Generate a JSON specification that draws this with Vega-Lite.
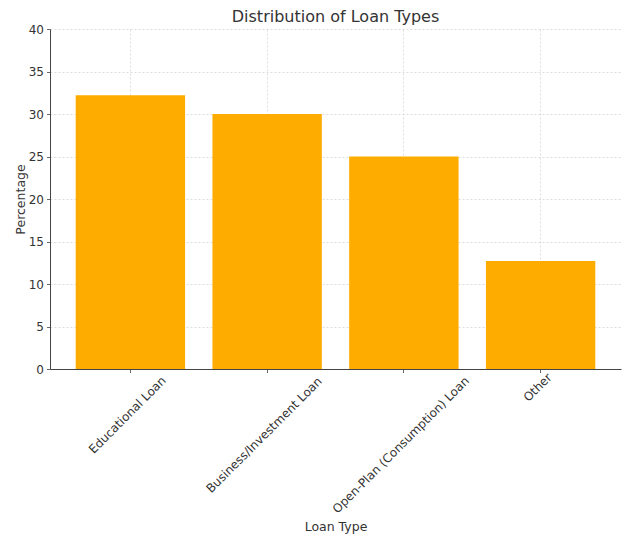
{
  "$schema": "https://vega.github.io/schema/vega-lite/v6.json",
  "width": 571,
  "height": 340,
  "autosize": {"type": "none"},
  "padding": {"left": 50, "top": 29, "right": 2, "bottom": 166},
  "background": "white",
  "title": {
    "text": "Distribution of Loan Types",
    "font": "DejaVu Sans",
    "fontSize": 16,
    "fontWeight": "normal",
    "color": "#333333",
    "frame": "group",
    "offset": -2
  },
  "data": {
    "values": [
      {"loan_type": "Educational Loan", "percentage": 32.2},
      {"loan_type": "Business/Investment Loan", "percentage": 30.0},
      {"loan_type": "Open-Plan (Consumption) Loan", "percentage": 25.0},
      {"loan_type": "Other", "percentage": 12.7}
    ]
  },
  "mark": {"type": "bar", "color": "#FFAC00"},
  "encoding": {
    "x": {
      "field": "loan_type",
      "type": "nominal",
      "sort": null,
      "scale": {"paddingInner": 0.2, "paddingOuter": 0.188},
      "axis": {
        "title": "Loan Type",
        "bandPosition": 0.5,
        "labelAngle": -45,
        "labelAlign": "center",
        "labelBaseline": "middle",
        "labelOffset": -3,
        "labelLimit": 0,
        "labelPadding": {"expr": "2 + length(datum.label) * 2.5"},
        "titlePadding": 6
      }
    },
    "y": {
      "field": "percentage",
      "type": "quantitative",
      "scale": {"domain": [0, 40], "nice": false},
      "axis": {
        "title": "Percentage",
        "values": [0, 5, 10, 15, 20, 25, 30, 35, 40],
        "titlePadding": 1
      }
    }
  },
  "config": {
    "view": {"stroke": null},
    "axis": {
      "labelFont": "DejaVu Sans",
      "labelFontSize": 12,
      "labelColor": "#333333",
      "titleFont": "DejaVu Sans",
      "titleFontSize": 12.5,
      "titleFontWeight": "normal",
      "titleColor": "#333333",
      "domainColor": "#444444",
      "domainWidth": 1,
      "tickColor": "#444444",
      "tickSize": 3.5,
      "tickWidth": 0.8,
      "grid": true,
      "gridColor": "#d4d4d4",
      "gridDash": [2, 2],
      "gridWidth": 0.8,
      "labelPadding": 3
    }
  }
}
